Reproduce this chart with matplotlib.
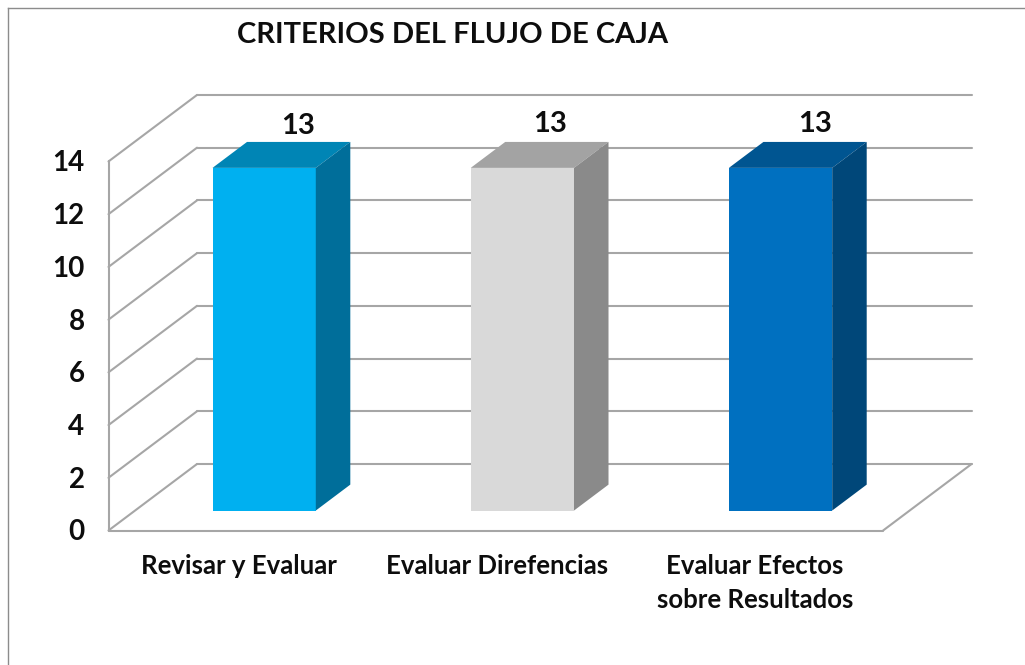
import matplotlib
matplotlib.use("Agg")
import matplotlib.pyplot as plt
from matplotlib.lines import Line2D
from matplotlib.patches import Polygon

plt.rcParams["font.family"] = ["Lato", "DejaVu Sans"]

title = "CRITERIOS DEL FLUJO DE CAJA"
categories = ["Revisar y Evaluar", "Evaluar Direfencias", "Evaluar Efectos\nsobre Resultados"]
values = [13, 13, 13]
y_ticks = [0, 2, 4, 6, 8, 10, 12, 14]

front_colors = ["#00B0F0", "#D9D9D9", "#0070C0"]
top_colors = ["#0085B5", "#A3A3A3", "#005591"]
side_colors = ["#006E9A", "#8A8A8A", "#004779"]
grid_color = "#A6A6A6"

W, H = 1025, 665
fig = plt.figure(figsize=(W / 100, H / 100), dpi=100)
ax = fig.add_axes([0, 0, 1, 1])
ax.axis("off")

# one category = 258.2 px, one value unit = 26.36 px, origin at (108.5, 530.5)
px_x = 258.2
px_y = 26.36
ax.set_xlim(-108.5 / px_x, (W - 108.5) / px_x)
ax.set_ylim(-(H - 530.5) / px_y, 530.5 / px_y)


# depth 0 is the front of the floor, depth 1 the back wall
def proj(x, y, d=0):
    return x + d * 88.5 / px_x, y + d * 66.5 / px_y


def line(p, q):
    ax.plot([p[0], q[0]], [p[1], q[1]], color=grid_color, lw=1.5, zorder=1,
            solid_capstyle="round")


n = len(categories)
top = max(y_ticks)
for v in y_ticks:
    line(proj(0, v, 0), proj(0, v, 1))
    line(proj(0, v, 1), proj(n, v, 1))
line(proj(0, 0, 0), proj(0, top, 0))
line(proj(0, 0, 0), proj(n, 0, 0))
line(proj(n, 0, 0), proj(n, 0, 1))

d0, d1 = 0.3, 0.69
bar_w = 0.4
label_nudge = [-1, -7, 0]
label_rise = [0, 2, 2]
for i, v in enumerate(values):
    xl = i + 0.5 - bar_w / 2
    xr = xl + bar_w
    ax.add_patch(Polygon([proj(xl, 0, d0), proj(xr, 0, d0), proj(xr, v, d0), proj(xl, v, d0)],
                         facecolor=front_colors[i], edgecolor="none", zorder=3))
    ax.add_patch(Polygon([proj(xl, v, d0), proj(xr, v, d0), proj(xr, v, d1), proj(xl, v, d1)],
                         facecolor=top_colors[i], edgecolor="none", zorder=3))
    ax.add_patch(Polygon([proj(xr, 0, d0), proj(xr, 0, d1), proj(xr, v, d1), proj(xr, v, d0)],
                         facecolor=side_colors[i], edgecolor="none", zorder=3))
    ax.annotate(str(v), proj(i + 0.5, v, d1), xytext=(label_nudge[i], 16 + label_rise[i]),
                textcoords="offset pixels", ha="center", va="center",
                fontsize=21, fontweight="bold", color="#0D0D0D", zorder=4)
    ax.annotate(categories[i], (i + 0.5, 0), xytext=(1, -24), textcoords="offset pixels",
                ha="center", va="top", fontsize=18.5, fontweight="bold",
                color="#0D0D0D", linespacing=1.5)

for v in y_ticks:
    ax.annotate(str(v), (0, v), xytext=(-24, -2), textcoords="offset pixels",
                ha="right", va="center", fontsize=20, fontweight="bold", color="#0D0D0D")

fig.text(452.5 / W, 1 - 35 / H, title, ha="center", va="center", fontsize=21,
         fontweight="bold", color="#0D0D0D")

# chart frame, only left and top are inside the crop
fig.add_artist(Line2D([7.5 / W, 7.5 / W], [0, 1 - 7.5 / H], color="#8C8C8C", lw=1))
fig.add_artist(Line2D([7.5 / W, 1], [1 - 7.5 / H, 1 - 7.5 / H], color="#8C8C8C", lw=1))

fig.savefig("out.png", dpi=100)
